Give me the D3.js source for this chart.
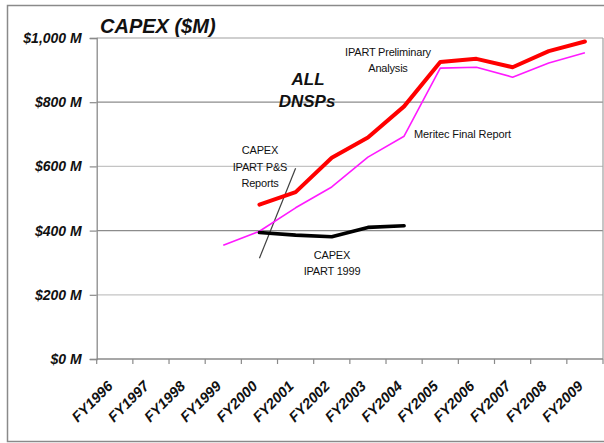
<!DOCTYPE html>
<html>
<head>
<meta charset="utf-8">
<script src="https://cdn.jsdelivr.net/npm/d3@7"></script>
<style>
  html, body { margin: 0; padding: 0; background: #fff; }
  svg { display: block; font-family: "Liberation Sans", Arial, sans-serif; }
</style>
</head>
<body>
<svg id="chart" width="604" height="443"></svg>
<script>
// ---- data ----
const categories = ["FY1996","FY1997","FY1998","FY1999","FY2000","FY2001","FY2002","FY2003","FY2004","FY2005","FY2006","FY2007","FY2008","FY2009"];
const yTicks = [0, 200, 400, 600, 800, 1000];
const yTickLabels = ["$0 M", "$200 M", "$400 M", "$600 M", "$800 M", "$1,000 M"];

// IPART Preliminary Analysis (red)
const iptPrelimCats = ["FY2000","FY2001","FY2002","FY2003","FY2004","FY2005","FY2006","FY2007","FY2008","FY2009"];
const iptPrelimVals = [481, 520, 627, 690, 787, 925, 935, 909, 959, 989];

// Meritec Final Report (magenta)
const meritecCats = ["FY1999","FY2000","FY2001","FY2002","FY2003","FY2004","FY2005","FY2006","FY2007","FY2008","FY2009"];
const meritecVals = [354, 398, 471, 536, 629, 694, 906, 909, 878, 922, 954];

// CAPEX IPART 1999 (black)
const ipart1999Cats = ["FY2000","FY2001","FY2002","FY2003","FY2004"];
const ipart1999Vals = [394, 386, 381, 410, 415];

// callout line for "CAPEX IPART P&S Reports"
const calloutCats = ["FY2000","FY2001"];
const calloutVals = [314, 594];

// ---- layout ----
const svg = d3.select("#chart");
const plot = { left: 96.7, right: 603, top: 38, bottom: 359 };

const x = d3.scaleBand().domain(categories).range([plot.left, plot.right]).padding(0);
const y = d3.scaleLinear().domain([0, 1000]).range([plot.bottom, plot.top]);
const cx = c => x(c) + x.bandwidth() / 2;

// outer frame
svg.append("rect")
  .attr("x", 7.5).attr("y", 5.5).attr("width", 610).attr("height", 436)
  .attr("fill", "none").attr("stroke", "#8a8a8a").attr("stroke-width", 1.5);

// gridlines
const gridColor = v => (v === 400 || v === 800) ? "#8c8c8c" : (v === 1000 ? "#a0a0a0" : "#c4c4c4");
svg.append("g").selectAll("line").data(yTicks.filter(v => v > 0)).join("line")
  .attr("x1", plot.left).attr("x2", plot.right)
  .attr("y1", d => y(d)).attr("y2", d => y(d))
  .attr("stroke", d => gridColor(d)).attr("stroke-width", 1.2);

// right border of plot
svg.append("line")
  .attr("x1", plot.right).attr("x2", plot.right)
  .attr("y1", plot.top).attr("y2", plot.bottom)
  .attr("stroke", "#a0a0a0").attr("stroke-width", 1.2);

// y axis
const yAxis = d3.axisLeft(y).tickValues(yTicks).tickSize(7).tickPadding(8)
  .tickFormat((d, i) => yTickLabels[i]);
const gy = svg.append("g").attr("transform", `translate(${plot.left},0)`).call(yAxis);
gy.select(".domain").attr("stroke", "#8a8a8a").attr("stroke-width", 1.3);
gy.selectAll(".tick line").attr("stroke", "#8a8a8a").attr("stroke-width", 1.2);
gy.selectAll(".tick text")
  .attr("fill", "#111").attr("font-size", "14px").attr("font-weight", "bold")
  .attr("font-style", "italic").attr("font-family", "Liberation Sans, Arial, sans-serif");

// x axis (ticks between categories)
const gx = svg.append("g").attr("transform", `translate(0,${plot.bottom})`);
gx.append("line").attr("x1", plot.left).attr("x2", plot.right)
  .attr("stroke", "#8a8a8a").attr("stroke-width", 1.3);
gx.selectAll("line.tk").data(categories.concat(["_end"])).join("line").attr("class", "tk")
  .attr("x1", (d, i) => i < categories.length ? x(d) : plot.right)
  .attr("x2", (d, i) => i < categories.length ? x(d) : plot.right)
  .attr("y1", 0).attr("y2", 5)
  .attr("stroke", "#8a8a8a").attr("stroke-width", 1.2);
gx.selectAll("text").data(categories).join("text")
  .attr("transform", d => `translate(${cx(d) - 1},${28}) rotate(-45)`)
  .attr("text-anchor", "end")
  .attr("font-size", "14.5px").attr("font-weight", "bold").attr("font-style", "italic")
  .attr("fill", "#111")
  .text(d => d);

// lines
const line = d3.line().x(d => cx(d[0])).y(d => y(d[1]));
const zip = (a, b) => a.map((c, i) => [c, b[i]]);

svg.append("path").datum(zip(calloutCats, calloutVals))
  .attr("d", line).attr("fill", "none").attr("stroke", "#404040").attr("stroke-width", 1.2);

svg.append("path").datum(zip(meritecCats, meritecVals))
  .attr("d", line).attr("fill", "none").attr("stroke", "#ff1aff").attr("stroke-width", 1.6)
  .attr("stroke-linejoin", "round");

svg.append("path").datum(zip(ipart1999Cats, ipart1999Vals))
  .attr("d", line).attr("fill", "none").attr("stroke", "#000").attr("stroke-width", 3.6)
  .attr("stroke-linejoin", "round").attr("stroke-linecap", "round");

svg.append("path").datum(zip(iptPrelimCats, iptPrelimVals))
  .attr("d", line).attr("fill", "none").attr("stroke", "#ff0000").attr("stroke-width", 4)
  .attr("stroke-linejoin", "round").attr("stroke-linecap", "round");

// title
svg.append("text").attr("x", 100).attr("y", 33)
  .attr("font-size", "20px").attr("font-weight", "bold").attr("font-style", "italic")
  .attr("fill", "#111").text("CAPEX ($M)");

// "ALL DNSPs"
const big = svg.append("text").attr("text-anchor", "middle")
  .attr("font-size", "17px").attr("font-weight", "bold").attr("font-style", "italic").attr("fill", "#111");
big.append("tspan").attr("x", 308).attr("y", 85).text("ALL");
big.append("tspan").attr("x", 307).attr("y", 107).text("DNSPs");

// annotations
function note(lines, xPos, yStart, dy) {
  const t = svg.append("text").attr("text-anchor", "middle")
    .attr("font-size", "11px").attr("fill", "#111").attr("letter-spacing", "-0.2px");
  lines.forEach((s, i) => t.append("tspan").attr("x", xPos).attr("y", yStart + i * dy).text(s));
}
note(["IPART Preliminary", "Analysis"], 388, 56, 16);
note(["CAPEX", "IPART P&S", "Reports"], 260, 154, 16.5);
note(["CAPEX", "IPART 1999"], 332, 259, 15.5);
svg.append("text").attr("x", 414).attr("y", 138)
  .attr("font-size", "11px").attr("fill", "#111").attr("letter-spacing", "-0.1px")
  .text("Meritec Final Report");
</script>
</body>
</html>
